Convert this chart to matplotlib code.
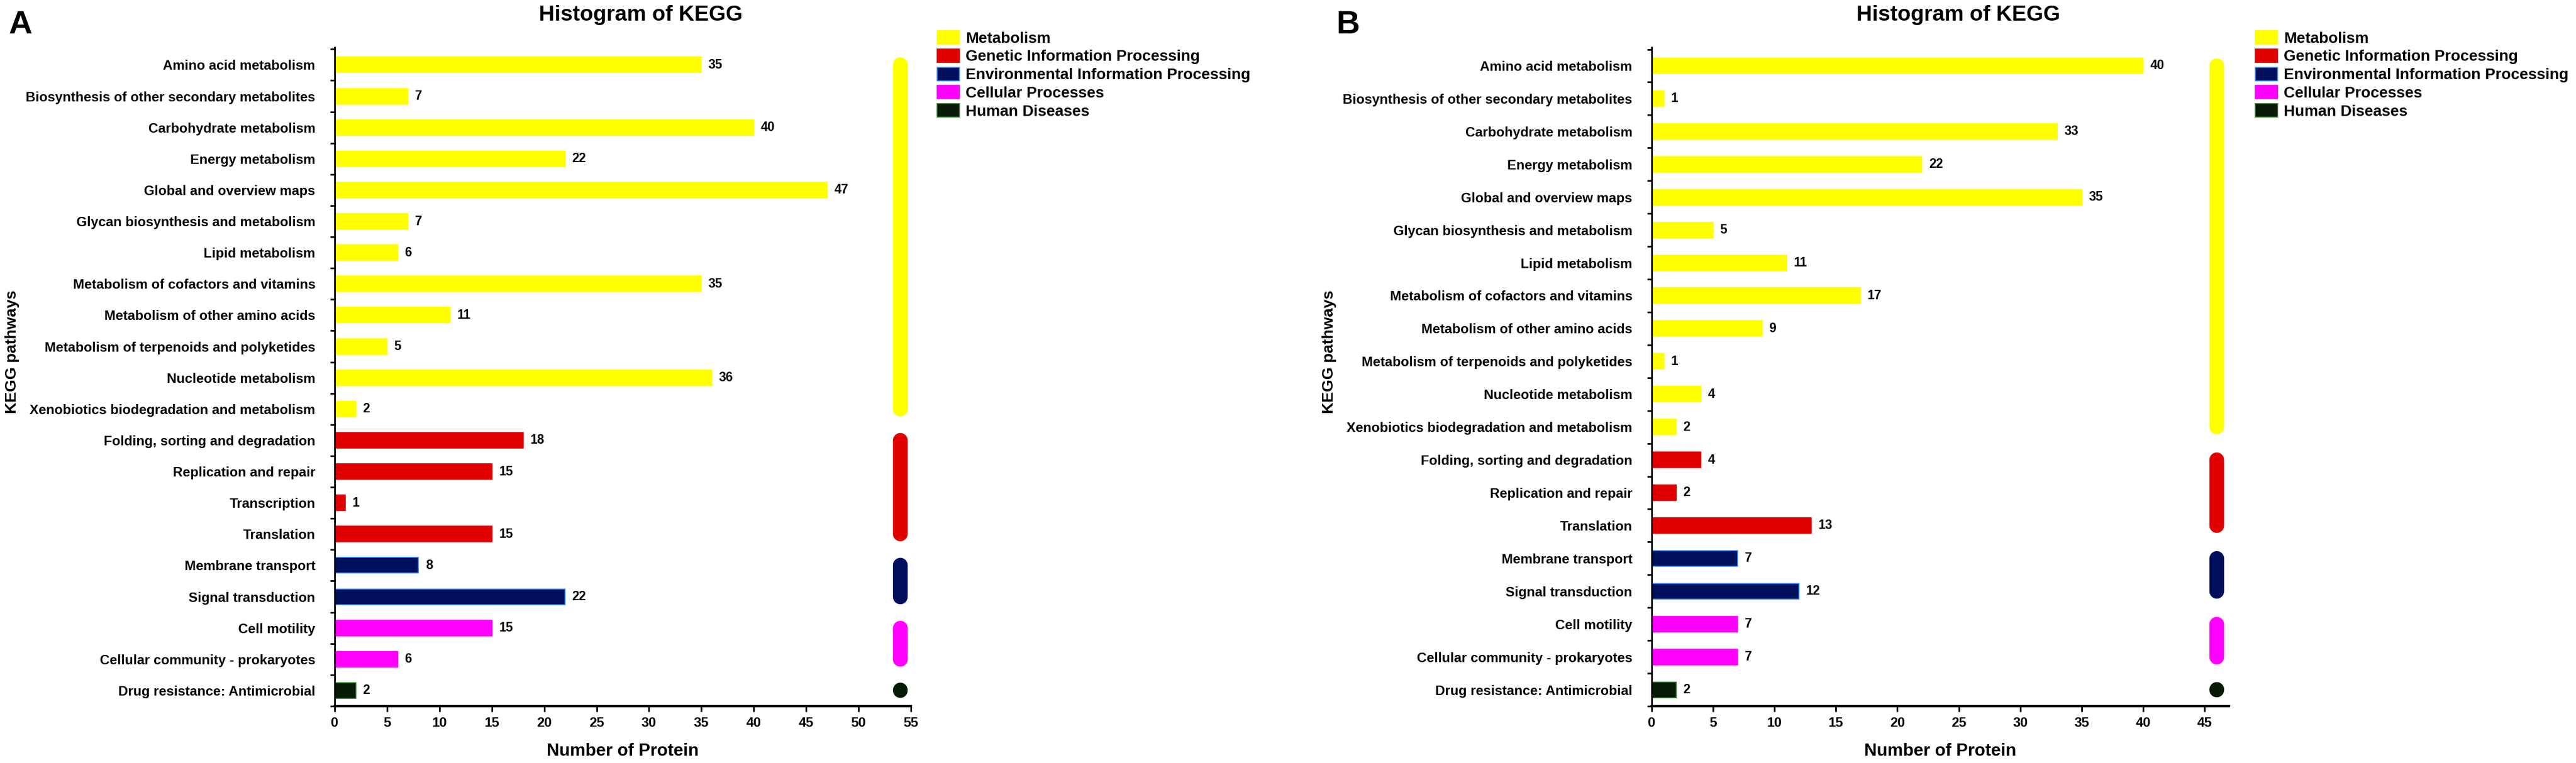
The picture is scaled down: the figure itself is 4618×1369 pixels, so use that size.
"""Two-panel KEGG pathway histogram (A / B)."""
import matplotlib
matplotlib.use("Agg")
import matplotlib.pyplot as plt
from matplotlib.patches import Patch

plt.rcParams["font.family"] = ["Liberation Sans", "DejaVu Sans"]

GROUPS = ["Metabolism", "Genetic Information Processing",
          "Environmental Information Processing", "Cellular Processes",
          "Human Diseases"]
GROUP_COLORS = ["#FFFF00", "#E00000", "#000F5C", "#FF00FF", "#061A06"]
GROUP_EDGES = ["#FFFF00", "#E00000", "#2F8CFF", "#FF00FF", "#1E7A1E"]

pathways_a = [
    "Amino acid metabolism", "Biosynthesis of other secondary metabolites",
    "Carbohydrate metabolism", "Energy metabolism", "Global and overview maps",
    "Glycan biosynthesis and metabolism", "Lipid metabolism",
    "Metabolism of cofactors and vitamins", "Metabolism of other amino acids",
    "Metabolism of terpenoids and polyketides", "Nucleotide metabolism",
    "Xenobiotics biodegradation and metabolism",
    "Folding, sorting and degradation", "Replication and repair",
    "Transcription", "Translation", "Membrane transport", "Signal transduction",
    "Cell motility", "Cellular community - prokaryotes",
    "Drug resistance: Antimicrobial",
]
counts_a = [35, 7, 40, 22, 47, 7, 6, 35, 11, 5, 36, 2, 18, 15, 1, 15, 8, 22, 15, 6, 2]
groups_a = [0] * 12 + [1] * 4 + [2] * 2 + [3] * 2 + [4]

pathways_b = [
    "Amino acid metabolism", "Biosynthesis of other secondary metabolites",
    "Carbohydrate metabolism", "Energy metabolism", "Global and overview maps",
    "Glycan biosynthesis and metabolism", "Lipid metabolism",
    "Metabolism of cofactors and vitamins", "Metabolism of other amino acids",
    "Metabolism of terpenoids and polyketides", "Nucleotide metabolism",
    "Xenobiotics biodegradation and metabolism",
    "Folding, sorting and degradation", "Replication and repair",
    "Translation", "Membrane transport", "Signal transduction",
    "Cell motility", "Cellular community - prokaryotes",
    "Drug resistance: Antimicrobial",
]
counts_b = [40, 1, 33, 22, 35, 5, 11, 17, 9, 1, 4, 2, 4, 2, 13, 7, 12, 7, 7, 2]
groups_b = [0] * 12 + [1] * 3 + [2] * 2 + [3] * 2 + [4]

W, H = 4618, 1369


def panel(fig, rect, names, counts, groups, xmax, pill_x, bar_h):
    ax = fig.add_axes(rect)
    n = len(names)
    rows = list(range(n))
    ax.barh(rows, counts, height=bar_h,
            color=[GROUP_COLORS[g] for g in groups],
            edgecolor=[GROUP_EDGES[g] for g in groups], linewidth=1.2)
    for i, v in enumerate(counts):
        ax.annotate(str(v), (v, i), xytext=(9, 0), textcoords="offset points",
                    va="center", ha="left", fontsize=16.5, fontweight="bold")
    # group pills on the right
    for g in range(len(GROUPS)):
        idx = [i for i in rows if groups[i] == g]
        lo, hi = min(idx), max(idx)
        if lo == hi:
            lo, hi = lo - 0.01, hi + 0.01
        ax.plot([pill_x, pill_x], [lo, hi], color=GROUP_COLORS[g],
                lw=19, solid_capstyle="round", clip_on=False)
    ax.set_xlim(0, xmax)
    ax.set_ylim(n - 0.5, -0.56)
    ax.set_yticks(rows)
    ax.set_yticklabels(names, fontsize=17.5, fontweight="bold")
    ax.set_yticks([i - 0.5 for i in range(n + 1)], minor=True)
    ax.tick_params(axis="y", which="major", length=0, pad=25)
    ax.tick_params(axis="y", which="minor", length=6, width=2.2)
    ax.set_xticks(range(0, int(xmax) + 1, 5))
    ax.tick_params(axis="x", length=7, width=2.2, pad=7, labelsize=17.5)
    for t in ax.get_xticklabels():
        t.set_fontweight("bold")
    for s in ("top", "right"):
        ax.spines[s].set_visible(False)
    ax.spines["left"].set_linewidth(2.2)
    ax.spines["bottom"].set_linewidth(3)
    ax.set_xlabel("Number of Protein", fontsize=22.5, fontweight="bold")
    ax.xaxis.set_label_coords(0.5, -0.056)
    return ax


fig = plt.figure(figsize=(W / 100, H / 100), dpi=100)

bottom = 1 - 1267 / H
height = 1182 / H
panel(fig, [600 / W, bottom, 1033 / W, height], pathways_a, counts_a, groups_a,
      55, 54, 0.5)
panel(fig, [2961 / W, bottom, 1035 / W, height], pathways_b, counts_b, groups_b,
      47, 46, 0.475)

handles = [Patch(facecolor=c, edgecolor=e, linewidth=1.2)
           for c, e in zip(GROUP_COLORS, GROUP_EDGES)]
for x0 in (1680, 4043):
    fig.legend(handles, GROUPS, loc="upper left",
               bbox_to_anchor=(x0 / W, 1 - 55 / H), frameon=False,
               prop={"size": 20, "weight": "bold"}, borderpad=0,
               borderaxespad=0, labelspacing=0.19, handlelength=1.45,
               handleheight=0.95, handletextpad=0.4)

for x0, xc, letter in ((16, 1149, "A"), (2395, 3511, "B")):
    fig.text(x0 / W, 1 - 18 / H, letter, fontsize=42, fontweight="bold",
             ha="left", va="top")
    fig.text(xc / W, 1 - 27 / H, "Histogram of KEGG", fontsize=28,
             fontweight="bold", ha="center", va="center")
for xc in (22, 2383):
    fig.text(xc / W, 1 - 631 / H, "KEGG pathways", fontsize=20.5,
             fontweight="bold", rotation=90, ha="center", va="center")

fig.savefig("out.png", dpi=100)
print("Saved out.png")
